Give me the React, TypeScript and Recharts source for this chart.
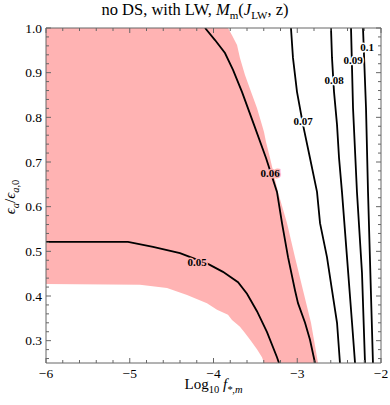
import React from "react";
import { ComposedChart, Area, Line, Scatter, XAxis, YAxis } from "recharts";

// pink region: lower and upper edge read at the same log10 f values
const bandX = [-6, -4.878, -4.555, -4.316, -4.078, -3.958, -3.827, -3.779, -3.719, -3.684, -3.624, -3.552, -3.481, -3.421, -3.397, -3.373, -3.325, -3.23, -3.122, -3.027, -2.931, -2.836, -2.752];
const bandLow = [0.427, 0.425, 0.418, 0.402, 0.384, 0.369, 0.358, 0.346, 0.337, 0.331, 0.317, 0.299, 0.281, 0.263, 0.25, 0.25, 0.25, 0.25, 0.25, 0.25, 0.25, 0.25, 0.25];
const bandHigh = [1, 1, 1, 1, 1, 1, 1, 0.984, 0.962, 0.933, 0.895, 0.857, 0.821, 0.783, 0.767, 0.745, 0.709, 0.633, 0.563, 0.487, 0.413, 0.34, 0.25];

// contours
const c05x = [-6, -5.021, -4.722, -4.4, -4.066, -3.887, -3.707, -3.6, -3.481, -3.361, -3.242, -3.218];
const c05y = [0.521, 0.521, 0.51, 0.496, 0.472, 0.454, 0.431, 0.405, 0.366, 0.319, 0.263, 0.25];
const c06x = [-4.101, -3.982, -3.863, -3.767, -3.66, -3.516, -3.373, -3.242, -3.182, -3.11, -3.027, -2.991, -2.907, -2.848, -2.788];
const c06y = [1, 0.973, 0.944, 0.906, 0.857, 0.783, 0.709, 0.633, 0.563, 0.487, 0.413, 0.384, 0.34, 0.302, 0.25];
const c07x = [-3.075, -3.051, -3.003, -2.931, -2.848, -2.764, -2.728, -2.645, -2.585, -2.525, -2.49];
const c07y = [1, 0.933, 0.857, 0.783, 0.709, 0.633, 0.563, 0.487, 0.413, 0.34, 0.25];
const c08x = [-2.597, -2.585, -2.561, -2.525, -2.501, -2.466, -2.406, -2.346, -2.31];
const c08y = [1, 0.933, 0.857, 0.783, 0.709, 0.633, 0.487, 0.34, 0.25];
const c09x = [-2.358, -2.334, -2.287, -2.227, -2.191];
const c09y = [1, 0.821, 0.633, 0.452, 0.25];
const c10x = [-2.215, -2.179, -2.155, -2.096];
const c10y = [1, 0.821, 0.633, 0.25];

const labelText = ["0.05", "0.06", "0.07", "0.08", "0.09", "0.1"];
const labelX = [-4.197, -3.325, -2.931, -2.561, -2.334, -2.167];
const labelY = [0.476, 0.675, 0.792, 0.884, 0.928, 0.957];

const xMajor = [-6, -5, -4, -3, -2];
const yMajor = [0.3, 0.4, 0.5, 0.6, 0.7, 0.8, 0.9, 1.0];

const PINK = "#ffb3b3";
const FRAME = "#666";
const SERIF = "'Liberation Serif', 'DejaVu Serif', serif";

const bandData = bandX.map((x, i) => ({ x, band: [bandLow[i], bandHigh[i]] }));
const pts = (xs: number[], ys: number[]) => xs.map((x, i) => ({ x, y: ys[i] }));
const contours = [pts(c05x, c05y), pts(c06x, c06y), pts(c07x, c07y), pts(c08x, c08y), pts(c09x, c09y), pts(c10x, c10y)];
const labels = labelText.map((t, i) => ({ x: labelX[i], y: labelY[i], t }));

// minor ticks every 0.2 on x and 0.02 on y
const xTicks = Array.from({ length: 21 }, (_, i) => Number((-6 + i * 0.2).toFixed(1)));
const yTicks = Array.from({ length: 38 }, (_, i) => Number((0.26 + i * 0.02).toFixed(2)));
const isMajorX = (v: number) => xMajor.some((m) => Math.abs(m - v) < 1e-6);
const isMajorY = (v: number) => yMajor.some((m) => Math.abs(m - v) < 1e-6);
const fmtX = (v: number) => (v < 0 ? "\u2212" + Math.abs(v) : String(v));

const tickText = { fontFamily: SERIF, fontSize: 13.5 };

function BottomTick({ x, y, payload }: any) {
  const major = isMajorX(payload.value);
  return (
    <g>
      <line x1={x} x2={x} y1={y} y2={y - (major ? 5 : 3)} stroke={FRAME} />
      {major && (
        <text x={x} y={y + 15} textAnchor="middle" style={tickText} fill="#000">
          {fmtX(payload.value)}
        </text>
      )}
    </g>
  );
}

function TopTick({ x, y, payload }: any) {
  const major = isMajorX(payload.value);
  return <line x1={x} x2={x} y1={y} y2={y + (major ? 5 : 3)} stroke={FRAME} />;
}

function LeftTick({ x, y, payload }: any) {
  const major = isMajorY(payload.value);
  return (
    <g>
      <line x1={x} x2={x + (major ? 5 : 3)} y1={y} y2={y} stroke={FRAME} />
      {major && (
        <text x={x - 4} y={y + 4.5} textAnchor="end" style={tickText} fill="#000">
          {payload.value.toFixed(1)}
        </text>
      )}
    </g>
  );
}

function RightTick({ x, y, payload }: any) {
  const major = isMajorY(payload.value);
  return <line x1={x} x2={x - (major ? 5 : 3)} y1={y} y2={y} stroke={FRAME} />;
}

function ContourLabel({ cx, cy, payload }: any) {
  const halo = payload.t === "0.05" || payload.t === "0.06" ? PINK : "#fff";
  return (
    <text
      x={cx}
      y={cy}
      textAnchor="middle"
      dominantBaseline="central"
      style={{ fontFamily: SERIF, fontSize: 11, fontWeight: "bold" }}
      fill="#000"
      stroke={halo}
      strokeWidth={3}
      paintOrder="stroke"
    >
      {payload.t}
    </text>
  );
}

export default function App() {
  return (
    <div style={{ position: "absolute", left: 0, top: 0, width: 390, height: 405, background: "#fff", fontFamily: SERIF }}>
      <div style={{ position: "absolute", left: 0, top: 0, width: 390, textAlign: "center", fontSize: 16.5, lineHeight: "19px" }}>
        no DS, with LW, <i>M</i>
        <sub style={{ fontSize: 11 }}>m</sub>(<i>J</i>
        <sub style={{ fontSize: 11 }}>LW</sub>, z)
      </div>
      <ComposedChart
        width={390}
        height={405}
        data={bandData}
        margin={{ top: 27, right: 8, bottom: 12, left: 8 }}
      >
        <XAxis
          dataKey="x"
          type="number"
          domain={[-6, -2]}
          ticks={xTicks}
          interval={0}
          tickSize={0}
          tickMargin={0}
          tick={<BottomTick />}
          axisLine={{ stroke: FRAME }}
          height={30}
          allowDataOverflow
        />
        <XAxis
          xAxisId="top"
          orientation="top"
          dataKey="x"
          type="number"
          domain={[-6, -2]}
          ticks={xTicks}
          interval={0}
          tickSize={0}
          tickMargin={0}
          tick={<TopTick />}
          axisLine={{ stroke: FRAME }}
          height={1}
          allowDataOverflow
        />
        <YAxis
          type="number"
          domain={[0.25, 1]}
          ticks={yTicks}
          interval={0}
          tickSize={0}
          tickMargin={0}
          tick={<LeftTick />}
          axisLine={{ stroke: FRAME }}
          width={38}
          allowDataOverflow
        />
        <YAxis
          yAxisId="right"
          orientation="right"
          type="number"
          domain={[0.25, 1]}
          ticks={yTicks}
          interval={0}
          tickSize={0}
          tickMargin={0}
          tick={<RightTick />}
          axisLine={{ stroke: FRAME }}
          width={1}
          allowDataOverflow
        />
        <Area dataKey="band" type="linear" fill={PINK} fillOpacity={1} stroke="none" isAnimationActive={false} />
        {contours.map((d, i) => (
          <Line
            key={i}
            data={d}
            dataKey="y"
            type="linear"
            stroke="#000"
            strokeWidth={1.8}
            dot={false}
            activeDot={false}
            isAnimationActive={false}
          />
        ))}
        <Scatter data={labels} dataKey="y" shape={<ContourLabel />} isAnimationActive={false} />
      </ComposedChart>
      <div style={{ position: "absolute", left: 46, width: 335, top: 375, textAlign: "center", fontSize: 15, lineHeight: "18px" }}>
        Log<sub style={{ fontSize: 10.5 }}>10</sub> <i>f</i>
        <sub style={{ fontSize: 10.5 }}>
          <i>*,m</i>
        </sub>
      </div>
      <div
        style={{
          position: "absolute",
          left: 13,
          top: 197,
          transform: "translate(-50%, -50%) rotate(-90deg)",
          whiteSpace: "nowrap",
          fontSize: 15,
          lineHeight: "16px",
        }}
      >
        <i>ϵ</i>
        <sub style={{ fontSize: 10.5 }}>
          <i>a</i>
        </sub>
        /<i>ϵ</i>
        <sub style={{ fontSize: 10.5 }}>
          <i>a</i>,0
        </sub>
      </div>
    </div>
  );
}
